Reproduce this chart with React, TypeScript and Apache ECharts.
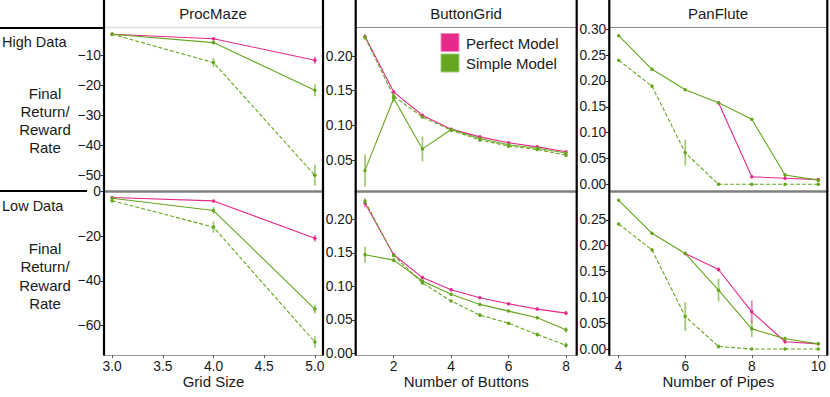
import React, { useEffect, useRef } from "react";
import * as echarts from "echarts";

// ---------- data ----------
const procMazeX = [3, 4, 5];
const pmHighPerfect = [-2.8, -4.3, -11.5];
const pmHighPerfectErr = [0.3, 0.5, 1.2];
const pmHighSimple = [-2.8, -5.6, -21.6];
const pmHighSimpleErr = [0.3, 0.6, 2.0];
const pmHighSimpleDashed = [-2.8, -12.3, -50.1];
const pmHighSimpleDashedErr = [0.3, 1.5, 3.5];

const pmLowPerfect = [-2.8, -4.3, -21.0];
const pmLowPerfectErr = [0.5, 0.5, 1.5];
const pmLowSimple = [-3.1, -8.6, -52.6];
const pmLowSimpleErr = [0.8, 1.5, 2.0];
const pmLowSimpleDashed = [-4.2, -16.0, -67.3];
const pmLowSimpleDashedErr = [0.8, 2.5, 2.5];

const buttonX = [1, 2, 3, 4, 5, 6, 7, 8];
const bgHighPerfect = [0.228, 0.148, 0.1145, 0.0945, 0.0834, 0.075, 0.069, 0.062];
const bgHighPerfectErr = [0.003, 0.002, 0.001, 0.001, 0.001, 0.001, 0.001, 0.001];
const bgHighSimple = [0.035, 0.139, 0.066, 0.094, 0.081, 0.072, 0.067, 0.06];
const bgHighSimpleErr = [0.023, 0.006, 0.018, 0.002, 0.002, 0.002, 0.002, 0.002];
const bgHighSimpleDashed = [0.227, 0.142, 0.112, 0.093, 0.079, 0.07, 0.065, 0.057];
const bgHighSimpleDashedErr = [0.004, 0.002, 0.002, 0.001, 0.002, 0.002, 0.002, 0.002];

const bgLowPerfect = [0.224, 0.147, 0.113, 0.095, 0.083, 0.074, 0.066, 0.06];
const bgLowPerfectErr = [0.006, 0.002, 0.001, 0.001, 0.001, 0.001, 0.002, 0.003];
const bgLowSimple = [0.147, 0.139, 0.108, 0.088, 0.073, 0.063, 0.053, 0.035];
const bgLowSimpleErr = [0.012, 0.003, 0.002, 0.001, 0.001, 0.001, 0.002, 0.004];
const bgLowSimpleDashed = [0.227, 0.146, 0.105, 0.078, 0.057, 0.045, 0.028, 0.012];
const bgLowSimpleDashedErr = [0.004, 0.002, 0.002, 0.001, 0.003, 0.001, 0.003, 0.004];

const pipesX = [4, 5, 6, 7, 8, 9, 10];
// null where the Perfect Model line is hidden beneath the Simple Model line
const pfHighPerfect = [null, null, null, 0.158, 0.0147, 0.0116, 0.009];
const pfHighPerfectErr = [0, 0, 0, 0.001, 0.002, 0.002, 0.001];
const pfHighSimple = [0.2876, 0.2225, 0.183, 0.158, 0.126, 0.018, 0.008];
const pfHighSimpleErr = [0.001, 0.001, 0.001, 0.001, 0.001, 0.004, 0.001];
const pfHighSimpleDashed = [0.24, 0.19, 0.061, 0.0, 0.0, 0.0, 0.0];
const pfHighSimpleDashedErr = [0.001, 0.001, 0.025, 0, 0, 0, 0];

const pfLowPerfect = [null, null, 0.185, 0.154, 0.072, 0.014, 0.01];
const pfLowPerfectErr = [0, 0, 0.001, 0.004, 0.022, 0.003, 0.001];
const pfLowSimple = [0.288, 0.224, 0.185, 0.114, 0.039, 0.02, 0.01];
const pfLowSimpleErr = [0.001, 0.001, 0.001, 0.022, 0.016, 0.004, 0.001];
const pfLowSimpleDashed = [0.242, 0.192, 0.063, 0.005, 0.0, 0.0, 0.0];
const pfLowSimpleDashedErr = [0.001, 0.001, 0.028, 0.004, 0.001, 0, 0];

const titles = ["ProcMaze", "ButtonGrid", "PanFlute"];
const xLabels = ["Grid Size", "Number of Buttons", "Number of Pipes"];
const rowLabels = ["High Data", "Low Data"];
const yLabel = "Final\nReturn/\nReward\nRate";
const legendNames = ["Perfect Model", "Simple Model"];

const pmXTicks = [3, 3.5, 4, 4.5, 5];
const bgXTicks = [2, 4, 6, 8];
const pfXTicks = [4, 6, 8, 10];
const pmHighYTicks = [-50, -40, -30, -20, -10];
const pmLowYTicks = [-60, -40, -20, 0];
const bgHighYTicks = [0.05, 0.1, 0.15, 0.2];
const bgLowYTicks = [0, 0.05, 0.1, 0.15, 0.2];
const pfHighYTicks = [0, 0.05, 0.1, 0.15, 0.2, 0.25, 0.3];
const pfLowYTicks = [0, 0.05, 0.1, 0.15, 0.2, 0.25];

// ---------- styles ----------
const PINK = "#e7298a";
const GREEN = "#66a61e";
const FONT = "Liberation Sans";
const TXT = "#1a1a1a";
const TICK_FS = 13.8;
const LABEL_FS = 15;

const minusFmt = (v: number) => (v < 0 ? "\u2212" : "") + String(Math.abs(v));

function lineSeries(idx: number, xs: number[], ys: (number | null)[], color: string, dashed: boolean, z: number) {
  return {
    type: "line",
    xAxisIndex: idx,
    yAxisIndex: idx,
    data: xs.map((x, i) => [x, ys[i] === null ? "-" : ys[i]]),
    symbol: "circle",
    symbolSize: 3.5,
    z,
    connectNulls: false,
    itemStyle: { color },
    lineStyle: { color, width: 1.1, type: dashed ? [4, 2] : "solid" },
  };
}

function errSeries(idx: number, xs: number[], ys: (number | null)[], es: number[], color: string, z: number) {
  const data: any[] = [];
  xs.forEach((x, i) => {
    if (ys[i] !== null) data.push([x, ys[i], es[i]]);
  });
  return {
    type: "custom",
    xAxisIndex: idx,
    yAxisIndex: idx,
    coordinateSystem: "cartesian2d",
    z,
    data,
    renderItem: (_p: any, api: any) => {
      const x = api.value(0);
      const y = api.value(1);
      const e = api.value(2);
      const a = api.coord([x, y - e]);
      const b = api.coord([x, y + e]);
      return {
        type: "line",
        shape: { x1: a[0], y1: a[1], x2: b[0], y2: b[1] },
        style: { stroke: color, lineWidth: 1.8, opacity: 0.6 },
      };
    },
  };
}

function panel(idx: number, xs: number[], p: (number | null)[], pe: number[], s: number[], se: number[], d: number[], de: number[]) {
  return [
    lineSeries(idx, xs, p, PINK, false, 2),
    errSeries(idx, xs, p, pe, PINK, 2),
    lineSeries(idx, xs, s, GREEN, false, 3),
    errSeries(idx, xs, s, se, GREEN, 3),
    lineSeries(idx, xs, d, GREEN, true, 4),
    errSeries(idx, xs, d, de, GREEN, 4),
  ];
}

export default function App() {
  const ref = useRef<HTMLDivElement>(null);
  useEffect(() => {
    if (!ref.current) return;
    const chart = echarts.init(ref.current, undefined, { renderer: "svg" });

    const cols = [
      { left: 104, width: 219 },
      { left: 355.7, width: 221 },
      { left: 609.3, width: 218 },
    ];
    const rows = [
      { top: 28, height: 163 },
      { top: 191, height: 164 },
    ];
    const grids: any[] = [];
    cols.forEach((c) =>
      rows.forEach((r) => grids.push({ left: c.left, width: c.width, top: r.top, height: r.height }))
    );

    const xCfg = [
      { min: 2.92, max: 5.08, ticks: pmXTicks, fmt: (v: number) => v.toFixed(1) },
      { min: 0.676, max: 8.373, ticks: bgXTicks, fmt: (v: number) => String(v) },
      { min: 3.717, max: 10.27, ticks: pfXTicks, fmt: (v: number) => String(v) },
    ];
    const yCfg = [
      { min: -55.36, max: -0.71, ticks: pmHighYTicks, fmt: minusFmt },
      { min: -73.1, max: 0.13, ticks: pmLowYTicks, fmt: minusFmt },
      { min: 0.0053, max: 0.2404, ticks: bgHighYTicks, fmt: (v: number) => v.toFixed(2) },
      { min: -0.0025, max: 0.2422, ticks: bgLowYTicks, fmt: (v: number) => v.toFixed(2) },
      { min: -0.013, max: 0.3025, ticks: pfHighYTicks, fmt: (v: number) => v.toFixed(2) },
      { min: -0.0116, max: 0.306, ticks: pfLowYTicks, fmt: (v: number) => v.toFixed(2) },
    ];

    const xAxis = grids.map((_g, i) => {
      const c = xCfg[Math.floor(i / 2)];
      const bottom = i % 2 === 1;
      return {
        type: "value",
        gridIndex: i,
        position: "bottom",
        min: c.min,
        max: c.max,
        splitLine: { show: false },
        axisLine: {
          show: true,
          onZero: false,
          lineStyle: bottom ? { color: "#999", width: 1 } : { color: "#808080", width: 2.5 },
        },
        axisTick: {
          show: bottom,
          length: 3,
          lineStyle: { color: "#555" },
          customValues: c.ticks,
        },
        axisLabel: {
          show: bottom,
          customValues: c.ticks,
          formatter: c.fmt,
          fontFamily: FONT,
          fontSize: TICK_FS,
          color: TXT,
          margin: 4,
        },
        name: bottom ? xLabels[Math.floor(i / 2)] : "",
        nameLocation: "middle",
        nameGap: 18.5,
        nameTextStyle: { fontFamily: FONT, fontSize: LABEL_FS, color: TXT },
      };
    });

    const yAxis = grids.map((_g, i) => {
      const c = yCfg[i];
      return {
        type: "value",
        gridIndex: i,
        min: c.min,
        max: c.max,
        splitLine: { show: false },
        axisLine: { show: false, onZero: false },
        axisTick: {
          show: true,
          length: 3.5,
          lineStyle: { color: "#333" },
          customValues: c.ticks,
        },
        axisLabel: {
          customValues: c.ticks,
          formatter: c.fmt,
          fontFamily: FONT,
          fontSize: TICK_FS,
          color: TXT,
          margin: 3,
        },
      };
    });

    const series: any[] = [
      ...panel(0, procMazeX, pmHighPerfect, pmHighPerfectErr, pmHighSimple, pmHighSimpleErr, pmHighSimpleDashed, pmHighSimpleDashedErr),
      ...panel(1, procMazeX, pmLowPerfect, pmLowPerfectErr, pmLowSimple, pmLowSimpleErr, pmLowSimpleDashed, pmLowSimpleDashedErr),
      ...panel(2, buttonX, bgHighPerfect, bgHighPerfectErr, bgHighSimple, bgHighSimpleErr, bgHighSimpleDashed, bgHighSimpleDashedErr),
      ...panel(3, buttonX, bgLowPerfect, bgLowPerfectErr, bgLowSimple, bgLowSimpleErr, bgLowSimpleDashed, bgLowSimpleDashedErr),
      ...panel(4, pipesX, pfHighPerfect, pfHighPerfectErr, pfHighSimple, pfHighSimpleErr, pfHighSimpleDashed, pfHighSimpleDashedErr),
      ...panel(5, pipesX, pfLowPerfect, pfLowPerfectErr, pfLowSimple, pfLowSimpleErr, pfLowSimpleDashed, pfLowSimpleDashedErr),
    ];

    const graphic: any[] = [];
    // black panel borders
    [104, 323, 355.7, 576.7, 609.3, 827.3].forEach((x) =>
      graphic.push({
        type: "line",
        z: 100,
        shape: { x1: x, y1: 0, x2: x, y2: 355.5 },
        style: { stroke: "#000", lineWidth: 2.2 },
      })
    );
    // top borders of upper plots
    cols.forEach((c, i) =>
      graphic.push({
        type: "line",
        z: 50,
        shape: { x1: c.left, y1: 27.5, x2: c.left + c.width, y2: 27.5 },
        style: i === 0 ? { stroke: "#e4e4e4", lineWidth: 2 } : { stroke: "#8c8c8c", lineWidth: 1 },
      })
    );
    // left column separators
    graphic.push({ type: "line", z: 100, shape: { x1: 0, y1: 28, x2: 104, y2: 28 }, style: { stroke: "#000", lineWidth: 2.2 } });
    graphic.push({ type: "line", z: 100, shape: { x1: 0, y1: 191, x2: 87, y2: 191 }, style: { stroke: "#000", lineWidth: 2.2 } });
    // titles
    const titleX = [213, 466, 718];
    titles.forEach((t, i) =>
      graphic.push({
        type: "text",
        x: titleX[i],
        y: 13,
        style: { text: t, fontFamily: FONT, fontSize: LABEL_FS, fill: TXT, textAlign: "center", textVerticalAlign: "middle" },
      })
    );
    // row labels
    [41.5, 205.5].forEach((y, i) =>
      graphic.push({
        type: "text",
        x: 2,
        y,
        style: { text: rowLabels[i], fontFamily: FONT, fontSize: 14.5, fill: TXT, textAlign: "left", textVerticalAlign: "middle" },
      })
    );
    [120.5, 276].forEach((y) =>
      graphic.push({
        type: "text",
        x: 45,
        y,
        style: {
          text: yLabel,
          fontFamily: FONT,
          fontSize: LABEL_FS,
          lineHeight: 18.3,
          fill: TXT,
          textAlign: "center",
          textVerticalAlign: "middle",
        },
      })
    );
    // legend
    [PINK, GREEN].forEach((col, i) => {
      graphic.push({
        type: "rect",
        z: 60,
        shape: { x: 441, y: 33.5 + i * 20.5, width: 18, height: 18 },
        style: { fill: col, stroke: i === 0 ? "#f08cbf" : "#a5cc7a", lineWidth: 1 },
      });
      graphic.push({
        type: "text",
        z: 60,
        x: 466,
        y: 43 + i * 20.5,
        style: { text: legendNames[i], fontFamily: FONT, fontSize: LABEL_FS, fill: TXT, textAlign: "left", textVerticalAlign: "middle" },
      });
    });

    chart.setOption({
      animation: false,
      backgroundColor: "#fff",
      grid: grids,
      xAxis,
      yAxis,
      series,
      graphic,
    });
    return () => chart.dispose();
  }, []);
  return (
    <div
      ref={ref}
      style={{ position: "absolute", left: 0, top: 0, width: 830, height: 397 }}
    />
  );
}
